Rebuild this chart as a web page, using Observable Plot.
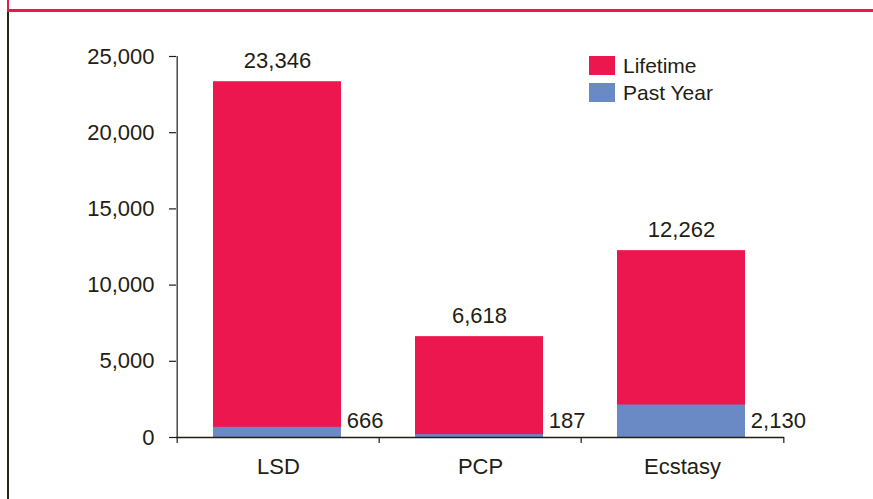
<!DOCTYPE html>
<html>
<head>
<meta charset="utf-8">
<script src="https://cdn.jsdelivr.net/npm/d3@7"></script>
<script src="https://cdn.jsdelivr.net/npm/@observablehq/plot@0.6"></script>
<style>
  html, body { margin: 0; padding: 0; background: #fff; }
  #wrap { position: relative; width: 873px; height: 499px; overflow: hidden; font-family: "Liberation Sans", Arial, sans-serif; color: #231d12; }
  #topline { position: absolute; left: 7px; top: 9px; width: 866px; height: 3px; background: #ED1750; }
  #leftred { position: absolute; left: 7px; top: 0; width: 2px; height: 10px; background: #ED1750; }
  #leftdark { position: absolute; left: 7px; top: 12px; width: 2px; height: 487px; background: #2b2418; }
  #chart { position: absolute; left: 0; top: 0; }
  .leg { position: absolute; left: 589px; display: flex; align-items: center; font-size: 21px; }
  .sw { width: 26px; height: 19px; margin-right: 8px; }
</style>
</head>
<body>
<div id="wrap">
  <div id="chart"></div>
  <div id="topline"></div>
  <div id="leftred"></div>
  <div id="leftdark"></div>
  <div id="legend"></div>
</div>
<script>
const categories = ["LSD", "PCP", "Ecstasy"];
const lifetime = [23346, 6618, 12262];
const pastYear = [666, 187, 2130];
const yTicks = [0, 5000, 10000, 15000, 20000, 25000];
const seriesNames = ["Lifetime", "Past Year"];
const seriesColors = ["#ED1750", "#6A8AC6"];

const data = categories.map((c, i) => ({cat: c, lifetime: lifetime[i], pastYear: pastYear[i]}));

const W = 873, H = 499;
const mL = 176, mR = 89, mT = 56, mB = 62;
const bw = (W - mL - mR) / categories.length;
const insetL = 36, insetR = 38;
const pxPerUnit = (H - mT - mB) / 25000;
const tickLenData = 6 / pxPerUnit;
const fmt = d3.format(",");
const ink = "#231d12";
const fs = 22;

const plot = Plot.plot({
  width: W,
  height: H,
  marginLeft: mL,
  marginRight: mR,
  marginTop: mT,
  marginBottom: mB,
  style: {fontFamily: '"Liberation Sans", Arial, sans-serif', fontSize: fs + "px", color: ink, background: "transparent"},
  x: {domain: categories, padding: 0, label: null},
  y: {domain: [0, 25000], label: null},
  marks: [
    Plot.barY(data, {x: "cat", y: "lifetime", fill: seriesColors[0], insetLeft: insetL, insetRight: insetR}),
    Plot.barY(data, {x: "cat", y: "pastYear", fill: seriesColors[1], insetLeft: insetL, insetRight: insetR}),
    Plot.axisY({ticks: yTicks, tickFormat: fmt, tickSize: 7, tickPadding: 15, stroke: ink, fill: ink, fontSize: fs, strokeWidth: 1.2, strokeOpacity: 1}),
    Plot.axisX({tickSize: 0, tickPadding: 21, fill: ink, fontSize: fs}),
    Plot.ruleY([0], {stroke: ink, strokeWidth: 1.5}),
    Plot.ruleX([categories[0]], {y1: 0, y2: 25000, dx: -bw / 2, stroke: ink, strokeWidth: 1.2}),
    Plot.ruleX(categories, {x: d => d, y1: 0, y2: -tickLenData, dx: -bw / 2, stroke: ink, strokeWidth: 1.2}),
    Plot.ruleX([categories[categories.length - 1]], {y1: 0, y2: -tickLenData, dx: bw / 2, stroke: ink, strokeWidth: 1.2}),
    Plot.text(data, {x: "cat", y: "lifetime", text: d => fmt(d.lifetime), dy: -21, dx: -1, fill: ink, fontSize: fs}),
    Plot.text(data, {x: "cat", y: () => 0, text: d => fmt(d.pastYear), dx: bw / 2 - insetR + 5, dy: -17, textAnchor: "start", fill: ink, fontSize: fs})
  ]
});
document.getElementById("chart").appendChild(plot);

const legend = document.getElementById("legend");
seriesNames.forEach((name, i) => {
  const row = document.createElement("div");
  row.className = "leg";
  row.style.top = (56 + i * 27 - 1) + "px";
  row.style.height = "21px";
  const sw = document.createElement("div");
  sw.className = "sw";
  sw.style.background = seriesColors[i];
  const t = document.createElement("span");
  t.textContent = name;
  row.appendChild(sw);
  row.appendChild(t);
  legend.appendChild(row);
});
</script>
</body>
</html>
